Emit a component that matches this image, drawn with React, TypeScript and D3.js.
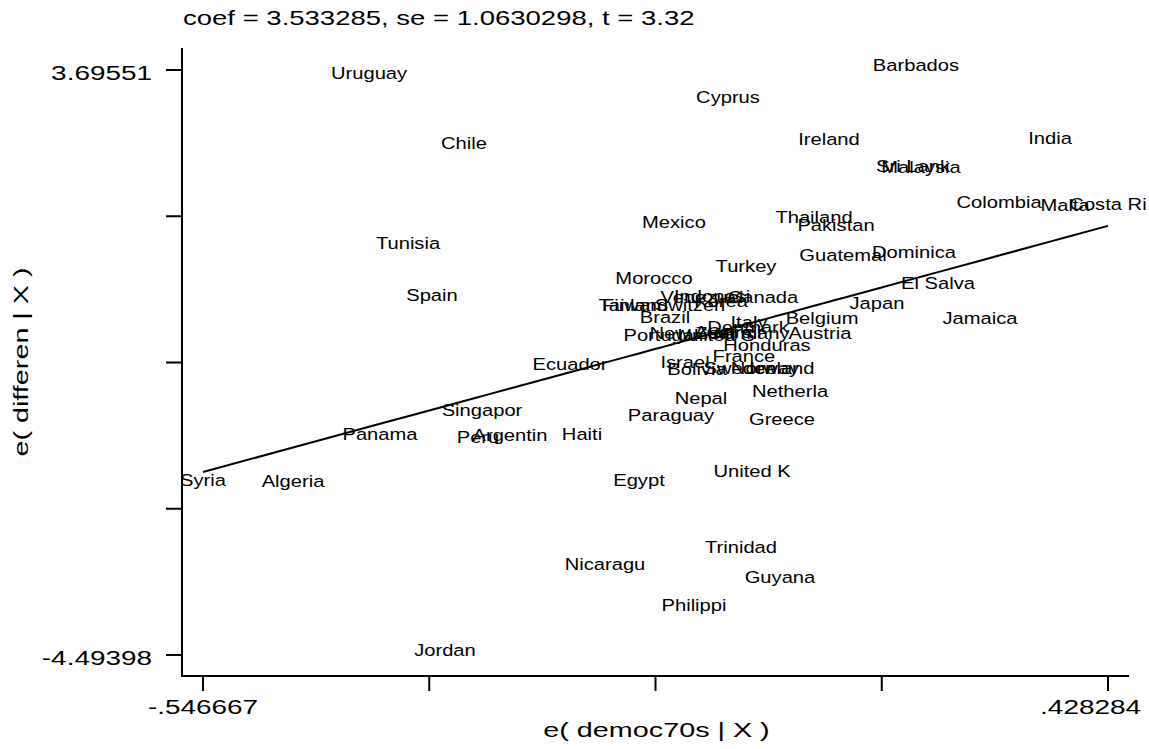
import * as React from 'react';
import * as d3 from 'd3';

// added-variable plot: residuals of differen vs residuals of democ70s
const coef = 3.533285;

const countries = [
  'Uruguay', 'Chile', 'Tunisia', 'Spain', 'Barbados', 'Cyprus', 'Ireland', 'India',
  'Sri Lank', 'Malaysia', 'Colombia', 'Malta', 'Costa Ri', 'Thailand', 'Pakistan', 'Mexico',
  'Guatemal', 'Dominica', 'Turkey', 'Morocco', 'El Salva', 'Japan', 'Jamaica', 'Belgium',
  'Venezuel', 'Indonesi', 'Canada', 'Korea', 'Taiwan', 'Finland', 'Switzerl', 'Brazil',
  'Italy', 'Denmark', 'Portugal', 'New Zeal', 'Australi', 'United S', 'Germany', 'Austria',
  'Honduras', 'France', 'Israel', 'Bolivia', 'Sweden', 'Norway', 'Iceland', 'Ecuador',
  'Netherla', 'Nepal', 'Singapor', 'Paraguay', 'Greece', 'Panama', 'Peru', 'Argentin',
  'Haiti', 'United K', 'Syria', 'Algeria', 'Egypt', 'Trinidad', 'Nicaragu', 'Guyana',
  'Philippi', 'Jordan',
];

// e( democ70s | X )
const democResid = [
  -0.3678, -0.2655, -0.3258, -0.3000, 0.2214, 0.0189, 0.1277, 0.3658,
  0.2182, 0.2268, 0.3109, 0.3820, 0.428284, 0.1116, 0.1353, -0.0393,
  0.1428, 0.2193, 0.0383, -0.0608, 0.2451, 0.1794, 0.2904, 0.1202,
  -0.0091, 0.0017, 0.0566, 0.0114, -0.0867, -0.0812, -0.0220, -0.0490,
  0.0415, 0.0405, -0.0533, -0.0199, 0.0189, 0.0060, 0.0405, 0.1180,
  0.0609, 0.0361, -0.0274, -0.0145, 0.0318, 0.0588, 0.0771, -0.1513,
  0.0857, -0.0102, -0.2461, -0.0425, 0.0771, -0.3560, -0.2504, -0.2159,
  -0.1384, 0.0448, -0.546667, -0.4497, -0.0770, 0.0329, -0.1136, 0.0749,
  -0.0177, -0.2860,
];

// e( differen | X )
const differenResid = [
  3.58, 2.60, 1.20, 0.48, 3.69551, 3.25, 2.66, 2.67,
  2.28, 2.27, 1.78, 1.74, 1.75, 1.57, 1.46, 1.50,
  1.04, 1.08, 0.88, 0.71, 0.64, 0.36, 0.15, 0.15,
  0.45, 0.46, 0.45, 0.39, 0.34, 0.34, 0.34, 0.17,
  0.10, 0.03, -0.08, -0.06, -0.04, -0.08, -0.06, -0.06,
  -0.22, -0.38, -0.46, -0.56, -0.55, -0.55, -0.55, -0.49,
  -0.87, -0.97, -1.13, -1.20, -1.26, -1.47, -1.51, -1.48,
  -1.47, -1.99, -2.11, -2.13, -2.11, -3.05, -3.29, -3.47,
  -3.86, -4.49398,
];

const xTickLabels = ['-.546667', '', '', '', '.428284'];
const yTickLabels = ['-4.49398', '', '', '', '3.69551'];
const title = 'coef = 3.533285, se = 1.0630298, t = 3.32';

const width = 1149;
const height = 749;
const left = 182;
const right = 1129;
const top = 48;
const bottom = 676;
const pad = 21;
const font = '"Liberation Sans", Arial, Helvetica, sans-serif';

const App = () => {
  const xMin = d3.min(democResid) as number;
  const xMax = d3.max(democResid) as number;
  const yMin = d3.min(differenResid) as number;
  const yMax = d3.max(differenResid) as number;

  const x = d3.scaleLinear().domain([xMin, xMax]).range([left + pad, right - pad]);
  const y = d3.scaleLinear().domain([yMin, yMax]).range([bottom - pad, top + pad + 1]);

  const xTicks = xTickLabels.map((_, i) => xMin + (i * (xMax - xMin)) / (xTickLabels.length - 1));
  const yTicks = yTickLabels.map((_, i) => yMin + (i * (yMax - yMin)) / (yTickLabels.length - 1));

  const pts = countries
    .map((name, i) => ({ name, dx: democResid[i], dy: differenResid[i] }))
    .sort((a, b) => a.dx - b.dx);

  // fitted line through the origin
  const fit = d3.line<any>()
    .x((d) => x(d.dx))
    .y((d) => y(coef * d.dx));

  return (
    <svg width={width} height={height} style={{ position: 'absolute', left: 0, top: 0, background: '#fff' }} fontFamily={font}>
      <rect width={width} height={height} fill="#fff" />

      {/* title */}
      <text transform={`translate(${left + 1},25) scale(1.31,1)`} fontSize={21}>{title}</text>

      {/* marker labels, centred on the points */}
      {pts.map((d) => (
        <text
          key={d.name}
          transform={`translate(${x(d.dx)},${y(d.dy) + 1}) scale(1.2,1)`}
          textAnchor="middle"
          fontSize={16.8}
          fill="#000"
        >
          {d.name}
        </text>
      ))}

      <path d={fit(pts) || ''} fill="none" stroke="#000" strokeWidth={2} />

      {/* axes */}
      <line x1={left} x2={left} y1={top} y2={bottom + 1} stroke="#000" strokeWidth={2} />
      <line x1={left - 1} x2={right} y1={bottom} y2={bottom} stroke="#000" strokeWidth={2} />

      {yTicks.map((v, i) => (
        <g key={`y${i}`}>
          <line x1={left - 16} x2={left} y1={y(v)} y2={y(v)} stroke="#000" strokeWidth={2} />
          {yTickLabels[i] && (
            <text transform={`translate(${left - 30},${y(v) + 10}) scale(1.33,1)`} textAnchor="end" fontSize={21}>
              {yTickLabels[i]}
            </text>
          )}
        </g>
      ))}

      {xTicks.map((v, i) => {
        const last = i === xTicks.length - 1;
        return (
          <g key={`x${i}`}>
            <line x1={x(v)} x2={x(v)} y1={bottom} y2={bottom + 15} stroke="#000" strokeWidth={2} />
            {xTickLabels[i] && (
              <text
                transform={`translate(${last ? width - 8 : x(v)},714) scale(1.33,1)`}
                textAnchor={last ? 'end' : 'middle'}
                fontSize={21}
              >
                {xTickLabels[i]}
              </text>
            )}
          </g>
        );
      })}

      {/* axis titles */}
      <text transform={`translate(${(left + right) / 2 + 1},737) scale(1.37,1)`} textAnchor="middle" fontSize={21}>
        e( democ70s | X )
      </text>
      <text transform={`translate(28,${(top + bottom) / 2}) rotate(-90) scale(1.37,1)`} textAnchor="middle" fontSize={21}>
        e( differen | X )
      </text>
    </svg>
  );
};

export default App;
